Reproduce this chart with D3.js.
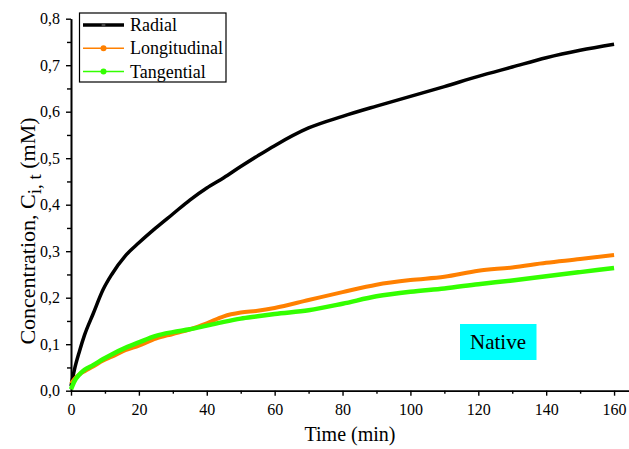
<!DOCTYPE html>
<html>
    <head>
        <meta charset="utf-8">
        <title>Native</title>
        <script src="https://d3js.org/d3.v7.min.js"></script>
        <style>
            body { margin: 0; background: #fff; }
            text { font-family: "Liberation Serif", "Times New Roman", serif; fill: #000; }
        </style>
    </head>
    <body>
        <script>
            // data
            var times = [0, 1, 2.5, 4, 6.5, 9.5, 12, 16, 20, 25, 30, 35, 40, 45, 50, 55, 60, 70, 80, 90, 100, 110, 120, 130, 140, 150, 160];
            var radial = [0.01, 0.045, 0.085, 0.12, 0.165, 0.218, 0.25, 0.29, 0.318, 0.35, 0.38, 0.41, 0.436, 0.458, 0.482, 0.505, 0.527, 0.565, 0.59, 0.612, 0.633, 0.654, 0.676, 0.696, 0.716, 0.732, 0.745];
            var longitudinal = [0.015, 0.025, 0.035, 0.042, 0.052, 0.065, 0.073, 0.087, 0.097, 0.112, 0.122, 0.132, 0.145, 0.16, 0.168, 0.172, 0.178, 0.195, 0.212, 0.228, 0.238, 0.245, 0.258, 0.265, 0.275, 0.283, 0.292];
            var tangential = [0.003, 0.02, 0.035, 0.045, 0.055, 0.068, 0.078, 0.092, 0.104, 0.118, 0.126, 0.132, 0.14, 0.148, 0.155, 0.16, 0.165, 0.173, 0.187, 0.203, 0.213, 0.22, 0.229, 0.237, 0.246, 0.255, 0.264];
            var seriesNames = ["Radial", "Longitudinal", "Tangential"];
            var seriesColors = ["#000000", "#ff8000", "#33ff00"];
            var xTicks = [0, 20, 40, 60, 80, 100, 120, 140, 160];
            var yTicks = [0, 0.1, 0.2, 0.3, 0.4, 0.5, 0.6, 0.7, 0.8];

            var width = 629, height = 449;

            var x = d3.scaleLinear().domain([0, 164.4]).range([71, 629]);
            var y = d3.scaleLinear().domain([0, 0.8]).range([390.7, 18.7]);

            var svg = d3.select("body").append("svg")
                .attr("width", width)
                .attr("height", height);

            // axes
            var comma = function(d) { return d3.format(".1f")(d).replace(".", ","); };

            svg.append("g")
                .attr("transform", "translate(0," + y(0) + ")")
                .call(d3.axisBottom(x).tickValues(xTicks).tickSize(5).tickPadding(8).tickSizeOuter(0));
            svg.append("g")
                .attr("transform", "translate(0," + y(0) + ")")
                .call(d3.axisBottom(x).tickValues(d3.range(10, 165, 20)).tickSize(3).tickFormat("").tickSizeOuter(0));

            svg.append("g")
                .attr("transform", "translate(" + x(0) + ",0)")
                .call(d3.axisLeft(y).tickValues(yTicks).tickFormat(comma).tickSize(5).tickPadding(6).tickSizeOuter(0));
            svg.append("g")
                .attr("transform", "translate(" + x(0) + ",0)")
                .call(d3.axisLeft(y).tickValues(d3.range(0.05, 0.8, 0.1)).tickSize(4).tickFormat("").tickSizeOuter(0));

            svg.selectAll("g").attr("font-family", null);
            svg.selectAll(".domain").attr("stroke", "#000").attr("stroke-width", 1.6);
            svg.selectAll(".tick line").attr("stroke", "#000").attr("stroke-width", 1.4);
            svg.selectAll(".tick text").style("font-size", "16px");

            // curves
            var line = d3.line()
                .x(function(d) { return x(d[0]); })
                .y(function(d) { return y(d[1]); })
                .curve(d3.curveMonotoneX);

            var allSeries = [radial, longitudinal, tangential];
            var widths = [3.5, 4, 4.5];
            allSeries.forEach(function(s, i) {
                svg.append("path")
                    .datum(times.map(function(t, j) { return [t, s[j]]; }))
                    .attr("d", line)
                    .attr("fill", "none")
                    .attr("stroke", seriesColors[i])
                    .attr("stroke-width", widths[i])
                    .attr("stroke-linejoin", "round");
            });

            // legend
            var legend = svg.append("g");
            legend.append("rect")
                .attr("x", 79.5).attr("y", 13).attr("width", 146.5).attr("height", 69)
                .attr("fill", "#fff").attr("stroke", "#000").attr("stroke-width", 1.2);
            var legendLine = [3.5, 1.5, 1.5];
            var legendDot = [2, 3, 3];
            seriesNames.forEach(function(name, i) {
                var ly = 25 + i * 23.3;
                legend.append("line")
                    .attr("x1", 83).attr("x2", 124).attr("y1", ly).attr("y2", ly)
                    .attr("stroke", seriesColors[i]).attr("stroke-width", legendLine[i]);
                legend.append("circle")
                    .attr("cx", 103.5).attr("cy", ly).attr("r", legendDot[i])
                    .attr("fill", i == 0 ? "#444" : seriesColors[i]);
                legend.append("text")
                    .attr("x", 130).attr("y", ly + 6)
                    .style("font-size", "18px")
                    .text(name);
            });

            // axis titles
            svg.append("text")
                .attr("x", 350).attr("y", 441)
                .attr("text-anchor", "middle")
                .style("font-size", "20px")
                .text("Time (min)");

            var yt = svg.append("text")
                .attr("transform", "translate(35,231) rotate(-90)")
                .attr("text-anchor", "middle")
                .style("font-size", "22px");
            yt.append("tspan").text("Concentration, C");
            yt.append("tspan").attr("dy", 6).style("font-size", "19px").text("i, t");
            yt.append("tspan").attr("dy", -6).text(" (mM)");

            // Native label
            svg.append("rect")
                .attr("x", 460).attr("y", 324).attr("width", 76.5).attr("height", 36)
                .attr("fill", "#00ffff");
            svg.append("text")
                .attr("x", 498).attr("y", 349)
                .attr("text-anchor", "middle")
                .style("font-size", "21px")
                .text("Native");
        </script>
    </body>
</html>
